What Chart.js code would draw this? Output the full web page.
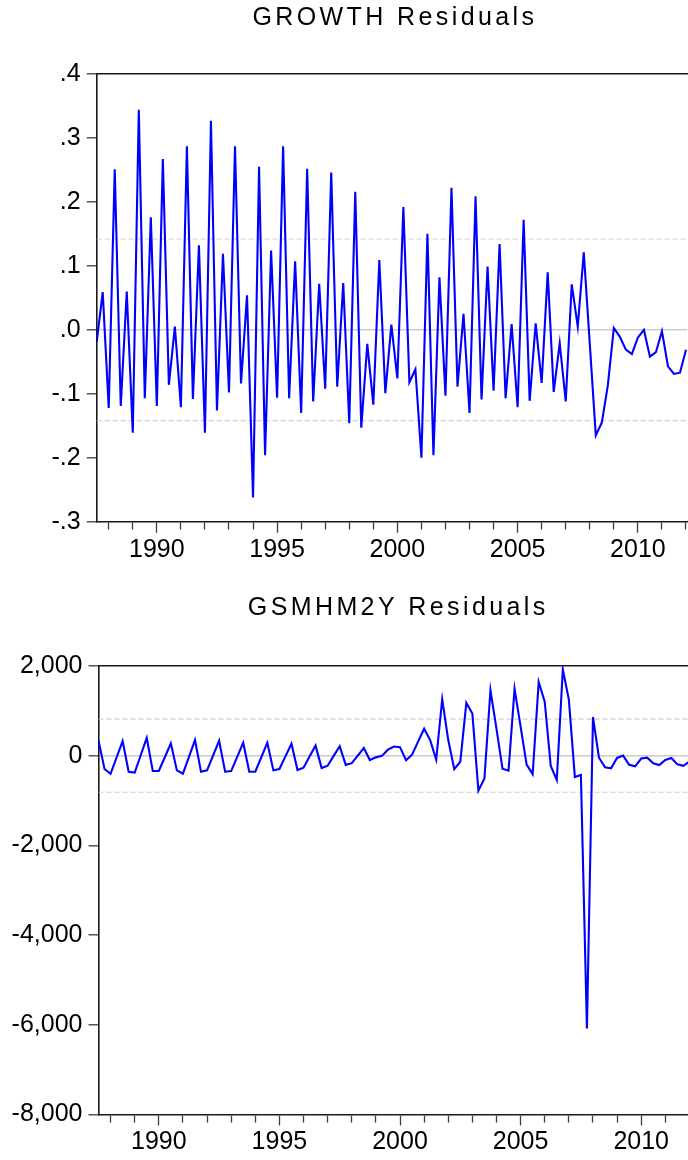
<!DOCTYPE html>
<html>
<head>
<meta charset="utf-8">
<script src="https://cdn.jsdelivr.net/npm/chart.js@4.4.1/dist/chart.umd.min.js"></script>
<style>
  html, body { margin: 0; padding: 0; background: #ffffff; }
  #wrap { position: relative; width: 688px; height: 1160px; overflow: hidden; background: #fff; }
  canvas { position: absolute; left: 0; display: block; }
  #c1 { top: 0; }
  #c2 { top: 580px; }
</style>
</head>
<body>
<div id="wrap">
  <canvas id="c1" width="688" height="580"></canvas>
  <canvas id="c2" width="688" height="580"></canvas>
</div>
<script>
// ---- Data (quarterly, first observation 1987Q3) ----
const firstPeriod = 1987.5;      // 1987Q3 as decimal year
const periodStep = 0.25;         // one quarter

const growthResid = [
  -0.019, 0.059, -0.122, 0.251, -0.119, 0.060, -0.161, 0.344, -0.107, 0.176,
  -0.119, 0.267, -0.086, 0.005, -0.121, 0.287, -0.108, 0.132, -0.161, 0.327,
  -0.126, 0.119, -0.098, 0.287, -0.084, 0.054, -0.262, 0.255, -0.196, 0.124,
  -0.106, 0.287, -0.107, 0.107, -0.130, 0.252, -0.112, 0.072, -0.092, 0.246,
  -0.089, 0.073, -0.146, 0.216, -0.153, -0.022, -0.117, 0.109, -0.099, 0.008,
  -0.076, 0.192, -0.082, -0.062, -0.200, 0.150, -0.196, 0.082, -0.103, 0.222,
  -0.089, 0.025, -0.130, 0.209, -0.109, 0.099, -0.095, 0.134, -0.107, 0.009,
  -0.121, 0.172, -0.111, 0.010, -0.083, 0.090, -0.097, -0.021, -0.112, 0.071,
  0.005, 0.121, -0.022, -0.165, -0.145, -0.087, 0.003, -0.011, -0.031, -0.038,
  -0.012, 0.000, -0.042, -0.035, -0.002, -0.057, -0.069, -0.067, -0.031
];

const gsmhm2yResid = [
  340, -297, -405, -40, 327, -357, -375, 10, 398, -342,
  -342, -35, 275, -327, -401, -25, 349, -357, -327, 0,
  334, -357, -342, -25, 290, -357, -357, -35, 290, -327,
  -297, -15, 267, -320, -267, -20, 225, -275, -223, -5,
  212, -204, -167, 2, 171, -97, -37, -4, 134, 204,
  190, -100, 22, 315, 602, 349, -90, 1260, 349, -300,
  -134, 1178, 940, -780, -505, 1460, 600, -290, -334, 1490,
  650, -200, -412, 1642, 1204, -230, -540, 1924, 1250, -476,
  -431, -6080, 862, -45, -260, -282, -50, 3, -204, -238,
  -63, -45, -171, -208, -97, -50, -193, -226, -130
];

// +/- one standard error bands (dashed reference lines)
const growthBand = 0.142;
const gsmhm2yBand = 815;

// Axis ticks / labels
const xLabelYears = [1990, 1995, 2000, 2005, 2010];
const growthYTicks = [-0.3, -0.2, -0.1, 0.0, 0.1, 0.2, 0.3, 0.4];
const gsmhm2yYTicks = [-8000, -6000, -4000, -2000, 0, 2000];

// ---- Chart helpers ----
const FONT_FAMILY = "'Liberation Sans', Arial, Helvetica, sans-serif";
const AXIS_COLOR = '#1a1a1a';
const TICK_COLOR = '#3c3c3c';
const REF_COLOR = '#cfcfcf';

const spacedTitle = {
  id: 'spacedTitle',
  beforeDraw(chart, args, opts) {
    const tb = chart.titleBlock;
    if (tb && !tb.__spaced) {
      const orig = tb.draw.bind(tb);
      tb.draw = function (area) {
        const c = chart.ctx;
        c.save();
        c.letterSpacing = (opts.spacing || 0) + 'px';
        c.translate(opts.offsetX || 0, 0);
        orig(area);
        c.restore();
      };
      tb.__spaced = true;
    }
  }
};

function toPoints(values) {
  return values.map((v, i) => ({ x: firstPeriod + i * periodStep, y: v }));
}

function makePanel(canvasId, cfg) {
  const xMin = firstPeriod;
  const xMax = cfg.xMax;
  const canvas = document.getElementById(canvasId);
  const H = canvas.height;
  const yMin = Math.min(...cfg.yTicks);
  const yMax = Math.max(...cfg.yTicks);
  const yearTicks = [];
  for (let y = Math.ceil(xMin); y <= Math.floor(xMax); y++) yearTicks.push(y);

  return new Chart(canvas, {
    type: 'line',
    data: {
      datasets: [
        {
          label: cfg.title,
          data: toPoints(cfg.values),
          borderColor: '#0000ff',
          borderWidth: 2.1,
          pointRadius: 0,
          tension: 0,
          fill: false,
          order: 0
        },
        {
          label: '+band',
          data: [{ x: xMin, y: cfg.band }, { x: xMax, y: cfg.band }],
          borderColor: REF_COLOR,
          borderWidth: 1.2,
          borderDash: [5, 3],
          pointRadius: 0,
          fill: false,
          order: 1
        },
        {
          label: '-band',
          data: [{ x: xMin, y: -cfg.band }, { x: xMax, y: -cfg.band }],
          borderColor: REF_COLOR,
          borderWidth: 1.2,
          borderDash: [5, 3],
          pointRadius: 0,
          fill: false,
          order: 1
        }
      ]
    },
    options: {
      responsive: false,
      animation: false,
      devicePixelRatio: 1,
      layout: { padding: 0 },
      plugins: {
        legend: { display: false },
        tooltip: { enabled: false },
        title: {
          display: true,
          fullSize: false,
          text: cfg.title,
          color: '#000',
          font: { family: FONT_FAMILY, size: 25, weight: 'normal', lineHeight: 1.2 },
          padding: { top: cfg.titleTop, bottom: cfg.areaTop - cfg.titleTop - 30 }
        },
        spacedTitle: { spacing: 3.4, offsetX: cfg.titleOffsetX }
      },
      scales: {
        x: {
          type: 'linear',
          position: 'bottom',
          min: xMin,
          max: xMax,
          afterBuildTicks: (s) => { s.ticks = yearTicks.map(v => ({ value: v })); },
          afterFit: (s) => { s.height = H - cfg.areaBottom; },
          ticks: {
            autoSkip: false,
            maxRotation: 0,
            minRotation: 0,
            padding: 2,
            color: '#000',
            font: { family: FONT_FAMILY, size: 25 },
            callback: (v) => xLabelYears.includes(v) ? String(v) : ''
          },
          grid: {
            display: true,
            drawOnChartArea: false,
            drawTicks: true,
            tickLength: 11,
            tickWidth: 1.3,
            tickColor: TICK_COLOR,
            tickBorderDash: (ctx) => (ctx.tick && xLabelYears.includes(ctx.tick.value)) ? [] : [7, 60]
          },
          border: { display: true, color: AXIS_COLOR, width: 1.6 }
        },
        xTop: {
          type: 'linear',
          position: 'top',
          min: xMin,
          max: xMax,
          ticks: { display: false },
          grid: { display: true, drawOnChartArea: false, drawTicks: false },
          border: { display: true, color: AXIS_COLOR, width: 1.6 }
        },
        y: {
          type: 'linear',
          position: 'left',
          min: yMin,
          max: yMax,
          afterBuildTicks: (s) => { s.ticks = cfg.yTicks.map(v => ({ value: v })); },
          afterFit: (s) => { s.width = cfg.areaLeft; },
          ticks: {
            autoSkip: false,
            padding: 6,
            color: '#000',
            font: { family: FONT_FAMILY, size: 25 },
            callback: cfg.yFormat
          },
          grid: {
            display: true,
            drawOnChartArea: true,
            drawTicks: true,
            tickLength: 10,
            tickWidth: 1.3,
            tickColor: TICK_COLOR,
            lineWidth: 1.6,
            color: (ctx) => (ctx.tick && Math.abs(ctx.tick.value) < 1e-9) ? '#cccccc' : 'rgba(0,0,0,0)'
          },
          border: { display: true, color: AXIS_COLOR, width: 1.6 }
        }
      }
    },
    plugins: [spacedTitle]
  });
}

const fmtDecimal = (v) => Number(v).toFixed(1).replace(/^(-?)0\./, '$1.');
const fmtThousands = (v) => Math.round(v).toLocaleString('en-US');

makePanel('c1', {
  title: 'GROWTH Residuals',
  values: growthResid,
  band: growthBand,
  yTicks: growthYTicks,
  yFormat: fmtDecimal,
  xMax: 2012.05,
  areaLeft: 96.7,
  areaTop: 74,
  areaBottom: 521.7,
  titleTop: 3.5,
  titleOffsetX: 3
});

makePanel('c2', {
  title: 'GSMHM2Y Residuals',
  values: gsmhm2yResid,
  band: gsmhm2yBand,
  yTicks: gsmhm2yYTicks,
  yFormat: fmtThousands,
  xMax: 2011.94,
  areaLeft: 98.5,
  areaTop: 86,
  areaBottom: 534.5,
  titleTop: 13.5,
  titleOffsetX: 5
});
</script>
</body>
</html>
